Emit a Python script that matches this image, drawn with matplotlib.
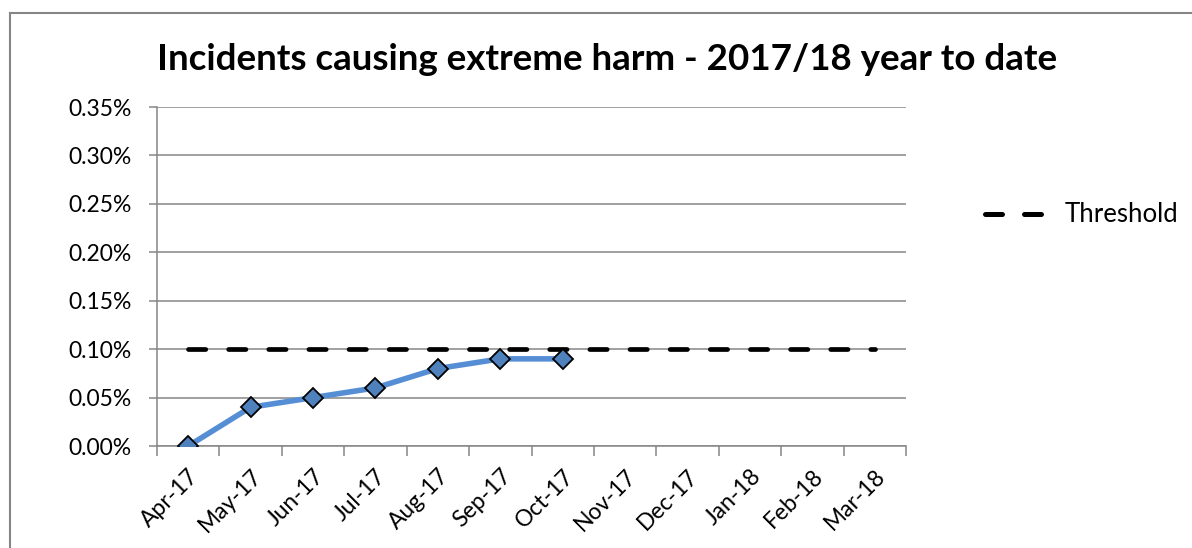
import numpy as np
import matplotlib
matplotlib.use("Agg")
from matplotlib import pyplot as plt
from matplotlib.lines import Line2D

plt.rcParams['font.family'] = ['Lato', 'DejaVu Sans']

# Monthly categories for the financial year
months = ["Apr-17", "May-17", "Jun-17", "Jul-17", "Aug-17", "Sep-17",
          "Oct-17", "Nov-17", "Dec-17", "Jan-18", "Feb-18", "Mar-18"]

# Cumulative rate (%) reported so far
rate_pct = [0.00, 0.04, 0.05, 0.06, 0.08, 0.09, 0.09]

# Threshold (%) for every month
threshold_pct = [0.10] * 12

x_all = np.arange(len(months))
x_rate = np.arange(len(rate_pct))

fig = plt.figure(figsize=(11.92, 5.48), dpi=100)
ax = fig.add_axes([0.1317, 0.1861, 0.6284, 0.6186])

grid_col = "#868686"
dash = (0, (3.66, 4.84))

# chart frame (only top and left edges are visible)
fig.add_artist(Line2D([10 / 1192, 10 / 1192], [0, 1 - 13 / 548],
                      transform=fig.transFigure, color=grid_col, lw=1.5))
fig.add_artist(Line2D([10 / 1192, 1], [1 - 13 / 548, 1 - 13 / 548],
                      transform=fig.transFigure, color=grid_col, lw=1.5))

ax.plot(x_all, threshold_pct, color="black", lw=3.4,
        linestyle=dash, dash_capstyle="round", zorder=3)
ax.plot(x_rate, rate_pct, color="#558ED5", lw=4.0, marker="D",
        markersize=10.5, markerfacecolor="#4F81BD", markeredgecolor="black",
        markeredgewidth=1.3, zorder=4)

ax.set_xlim(-0.5, 11.5)
ax.set_ylim(0, 0.35)
ax.set_yticks(np.arange(0, 0.351, 0.05))
ax.set_yticklabels([f"{v:.2f}%" for v in np.arange(0, 0.351, 0.05)])
ax.yaxis.grid(True, color=grid_col, lw=1.1)
ax.set_axisbelow(True)

# category labels sit at centres, tick marks at boundaries
ax.set_xticks(x_all)
ax.set_xticklabels(months, rotation=45, ha="right", rotation_mode="anchor")
ax.set_xticks(np.arange(-0.5, 12, 1), minor=True)
ax.tick_params(axis="x", which="major", length=0, pad=14, labelsize=16.5)
ax.tick_params(axis="x", which="minor", length=7, width=1.1, color=grid_col)
ax.tick_params(axis="y", length=6, width=1.1, color=grid_col, labelsize=16.5, pad=12)

for s in ["top", "right"]:
    ax.spines[s].set_visible(False)
for s in ["left", "bottom"]:
    ax.spines[s].set_color(grid_col)
    ax.spines[s].set_linewidth(1.1)

fig.text(607 / 1192, 1 - 60 / 548, "Incidents causing extreme harm - 2017/18 year to date",
         ha="center", va="center", fontsize=26.5, fontweight="bold")

legend_handle = Line2D([0], [0], color="black", lw=3.6,
                       linestyle=(0, (3.4, 4.4)), dash_capstyle="round")
fig.legend([legend_handle], ["Threshold"], loc="center left",
           bbox_to_anchor=(962 / 1192, 1 - 215 / 548), frameon=False,
           fontsize=18.5, handlelength=2.6, handletextpad=0.5)

plt.savefig("out.png", dpi=100)
